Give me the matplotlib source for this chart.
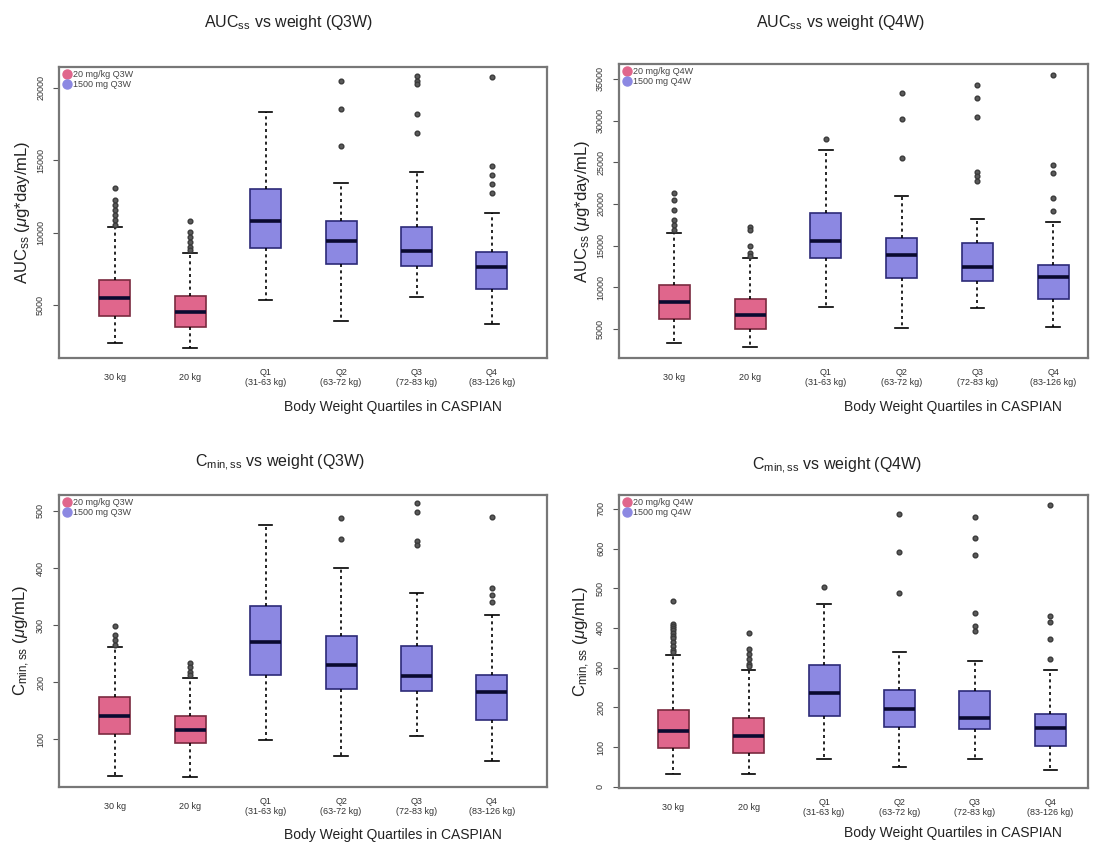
import matplotlib
matplotlib.use("Agg")
import matplotlib.pyplot as plt
from matplotlib.lines import Line2D

plt.rcParams['font.family'] = ['Liberation Sans', 'DejaVu Sans']
plt.rcParams['mathtext.fontset'] = 'custom'
plt.rcParams['mathtext.rm'] = 'Liberation Sans'
plt.rcParams['mathtext.it'] = 'Liberation Sans:italic'

# x categories
groups_q3w = ['30 kg', '20 kg', 'Q1\n(31-63 kg)', 'Q2\n(63-72 kg)', 'Q3\n(72-83 kg)', 'Q4\n(83-126 kg)']
groups_q4w = ['30 kg', '20 kg', 'Q1\n(31-63 kg)', 'Q2\n(63-72 kg)', 'Q3\n(72-83 kg)', 'Q4\n(83-126 kg)']

# AUCss, Q3W
auc3_whislo = [2380, 2010, 5350, 3900, 5570, 3690]
auc3_q1 = [4240, 3500, 8950, 7810, 7690, 6100]
auc3_med = [5500, 4500, 10770, 9410, 8750, 7600]
auc3_q3 = [6720, 5640, 12980, 10810, 10400, 8680]
auc3_whishi = [10400, 8610, 18330, 13430, 14190, 11370]
auc3_fliers = [[13090, 12240, 11900, 11550, 11200, 10860, 10520],
               [10790, 10030, 9690, 9350, 9000, 8790],
               [],
               [20470, 18500, 15990],
               [20790, 20470, 20240, 18150, 16840],
               [20700, 14590, 13970, 13350, 12700]]

# AUCss, Q4W
auc4_whislo = [3360, 2800, 7680, 5080, 7480, 5280]
auc4_q1 = [6160, 5040, 13480, 11080, 10800, 8560]
auc4_med = [8200, 6680, 15560, 13880, 12480, 11200]
auc4_q3 = [10280, 8560, 18960, 15880, 15280, 12680]
auc4_whishi = [16480, 13560, 26480, 21000, 18160, 17800]
auc4_fliers = [[21280, 20480, 19280, 18080, 17480, 16880],
               [17280, 16880, 15000, 14080, 13760],
               [27760],
               [33280, 30160, 25560],
               [34280, 32760, 30400, 23840, 23360, 22760],
               [35480, 24680, 23680, 20760, 19200]]

# Cmin,ss, Q3W
cmin3_whislo = [36, 33, 98, 71, 106, 62]
cmin3_q1 = [109, 93, 213, 188, 185, 134]
cmin3_med = [140, 116, 270, 230, 210, 183]
cmin3_q3 = [174, 141, 333, 280, 263, 212]
cmin3_whishi = [261, 207, 476, 400, 356, 318]
cmin3_fliers = [[298, 283, 274, 265],
                [234, 227, 218, 213],
                [],
                [488, 451],
                [514, 498, 448, 441],
                [489, 365, 353, 340]]

# Cmin,ss, Q4W
cmin4_whislo = [33, 33, 71, 49, 71, 43]
cmin4_q1 = [98, 85, 179, 151, 146, 102]
cmin4_med = [141, 128, 237, 196, 173, 149]
cmin4_q3 = [193, 174, 306, 245, 241, 183]
cmin4_whishi = [333, 293, 460, 339, 318, 293]
cmin4_fliers = [[468, 410, 405, 400, 395, 388, 380, 375, 365, 355, 345, 340],
                [387, 348, 335, 323, 310, 305],
                [504],
                [688, 591, 488],
                [679, 627, 583, 439, 406, 393],
                [710, 431, 414, 373, 323]]

PINK = '#E0668C'
BLUE = '#8C88E2'
PINK_EDGE = '#7a2a40'
BLUE_EDGE = '#2c2a78'


def make_stats(whislo, q1, med, q3, whishi, fliers):
    out = []
    for i in range(len(med)):
        out.append(dict(whislo=whislo[i], q1=q1[i], med=med[i], q3=q3[i],
                        whishi=whishi[i], fliers=fliers[i]))
    return out


def panel(fig, rect, stats, labels, xlim, ylim, yticks, ylabel, title, legend,
          title_xy, xlabel_xy):
    ax = fig.add_axes(rect)
    bp = ax.bxp(stats, positions=range(1, 7), widths=0.41, capwidths=0.18,
                patch_artist=True, showfliers=True,
                whiskerprops=dict(color='black', linestyle=(0, (1.8, 2)), linewidth=1.2),
                capprops=dict(color='black', linewidth=1.2),
                medianprops=dict(color='#0a0a30', linewidth=2.6),
                flierprops=dict(marker='o', markersize=3.4, markerfacecolor='#5a5a5a',
                                markeredgecolor='#3a3a3a', linestyle='none'))
    for i, b in enumerate(bp['boxes']):
        if i < 2:
            b.set_facecolor(PINK)
            b.set_edgecolor(PINK_EDGE)
        else:
            b.set_facecolor(BLUE)
            b.set_edgecolor(BLUE_EDGE)
        b.set_linewidth(1.2)
    ax.set_xlim(*xlim)
    ax.set_ylim(*ylim)
    ax.set_xticks(range(1, 7))
    ax.set_xticklabels(labels, fontsize=6.5, color='#333333', linespacing=1.1, va='center')
    ax.tick_params(axis='x', length=0, pad=14)
    ax.set_yticks(yticks)
    ax.set_yticklabels([str(t) for t in yticks], rotation=90, va='center',
                       fontsize=6.5, color='#333333')
    ax.tick_params(axis='y', length=4, width=0.8, color='#555555', pad=6)
    for s in ax.spines.values():
        s.set_color('#777777')
        s.set_linewidth(1.6)
    ax.set_ylabel(ylabel, fontsize=12, color='#222222', labelpad=3)
    handles = [Line2D([], [], marker='o', linestyle='none', markersize=6.5,
                      markerfacecolor=PINK, markeredgecolor=PINK),
               Line2D([], [], marker='o', linestyle='none', markersize=6.5,
                      markerfacecolor=BLUE, markeredgecolor=BLUE)]
    ax.legend(handles, legend, loc='upper left', frameon=False, fontsize=6.5,
              handletextpad=0.1, borderaxespad=0.1, borderpad=0.2,
              labelspacing=0.15, handlelength=1.2, labelcolor='#444444')
    fig.text(title_xy[0], title_xy[1], title, ha='center', va='center',
             fontsize=11.5, color='#222222')
    fig.text(xlabel_xy[0], xlabel_xy[1], 'Body Weight Quartiles in CASPIAN', ha='center',
             va='center', fontsize=10, color='#222222')
    return ax


fig = plt.figure(figsize=(11, 8.44), dpi=100)

panel(fig, [0.0536, 0.5758, 0.4437, 0.3448],
      make_stats(auc3_whislo, auc3_q1, auc3_med, auc3_q3, auc3_whishi, auc3_fliers),
      groups_q3w, (0.26, 6.73), (1345, 21414), [5000, 10000, 15000, 20000],
      r'AUC$_{\mathrm{ss}}$ ($\mu$g*day/mL)', r'AUC$_{\mathrm{ss}}$ vs weight (Q3W)',
      ['20 mg/kg Q3W', '1500 mg Q3W'], (289 / 1100, 1 - 22 / 844), (393 / 1100, 1 - 407 / 844))

panel(fig, [0.5627, 0.5758, 0.4264, 0.3484],
      make_stats(auc4_whislo, auc4_q1, auc4_med, auc4_q3, auc4_whishi, auc4_fliers),
      groups_q4w, (0.27, 6.46), (1520, 36800),
      [5000, 10000, 15000, 20000, 25000, 30000, 35000],
      r'AUC$_{\mathrm{ss}}$ ($\mu$g*day/mL)', r'AUC$_{\mathrm{ss}}$ vs weight (Q4W)',
      ['20 mg/kg Q4W', '1500 mg Q4W'], (841 / 1100, 1 - 22 / 844), (953 / 1100, 1 - 407 / 844))

panel(fig, [0.0536, 0.0675, 0.4437, 0.3460],
      make_stats(cmin3_whislo, cmin3_q1, cmin3_med, cmin3_q3, cmin3_whishi, cmin3_fliers),
      groups_q3w, (0.26, 6.73), (16, 528), [100, 200, 300, 400, 500],
      r'C$_{\mathrm{min,ss}}$ ($\mu$g/mL)', r'C$_{\mathrm{min,ss}}$ vs weight (Q3W)',
      ['20 mg/kg Q3W', '1500 mg Q3W'], (280 / 1100, 1 - 463 / 844), (393 / 1100, 1 - 835 / 844))

panel(fig, [0.5627, 0.0664, 0.4264, 0.3471],
      make_stats(cmin4_whislo, cmin4_q1, cmin4_med, cmin4_q3, cmin4_whishi, cmin4_fliers),
      groups_q4w, (0.28, 6.5), (-3, 735), [0, 100, 200, 300, 400, 500, 600, 700],
      r'C$_{\mathrm{min,ss}}$ ($\mu$g/mL)', r'C$_{\mathrm{min,ss}}$ vs weight (Q4W)',
      ['20 mg/kg Q4W', '1500 mg Q4W'], (837 / 1100, 1 - 466 / 844), (953 / 1100, 1 - 833 / 844))

fig.savefig('out.png', dpi=100, facecolor='white')
